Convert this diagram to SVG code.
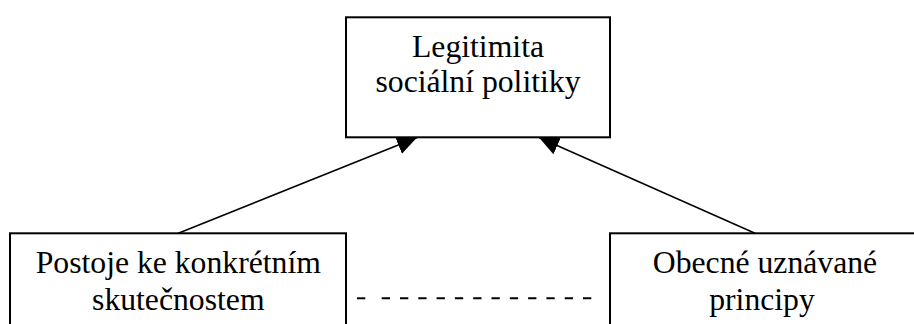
<svg xmlns="http://www.w3.org/2000/svg" width="914" height="324" viewBox="0 0 914 324">
  <style>
    .box { fill: #ffffff; stroke: #000000; stroke-width: 2; }
    .lbl { font-family: 'Liberation Serif', 'Times New Roman', serif; font-size: 31.7px; fill: #000000; text-anchor: middle; }
    .conn { stroke: #000000; stroke-width: 1.5; fill: none; }
    .dash { stroke: #000000; stroke-width: 2; fill: none; }
  </style>
  <defs>
    <marker id="arrow" viewBox="0 0 20 19" markerWidth="20" markerHeight="19" refX="20" refY="9.5" orient="auto" markerUnits="userSpaceOnUse">
      <path d="M0,0 L20,9.5 L0,19 Z" fill="#000000"/>
    </marker>
  </defs>
  <rect width="914" height="324" fill="#ffffff"/>
  <g id="connectors">
    <line class="conn" x1="178.3" y1="233.3" x2="417" y2="137.5" marker-end="url(#arrow)"/>
    <line class="conn" x1="755" y1="233.3" x2="539" y2="137.5" marker-end="url(#arrow)"/>
    <line class="dash" x1="357" y1="298.3" x2="365.3" y2="298.3"/>
    <line class="dash" x1="381.7" y1="298.3" x2="593" y2="298.3" stroke-dasharray="8.3 10"/>
  </g>
  <g id="node-legitimita">
    <rect class="box" x="346" y="17.3" width="264" height="120"/>
    <text class="lbl" x="478" y="56.7">Legitimita</text>
    <text class="lbl" x="478" y="92">sociální politiky</text>
  </g>
  <g id="node-postoje">
    <rect class="box" x="10" y="233.3" width="336" height="120"/>
    <text class="lbl" x="178.3" y="273.3">Postoje ke konkrétním</text>
    <text class="lbl" x="178.3" y="310">skutečnostem</text>
  </g>
  <g id="node-principy">
    <rect class="box" x="610" y="233.3" width="320" height="120"/>
    <text class="lbl" x="765" y="273.3">Obecné uznávané</text>
    <text class="lbl" x="762" y="310">principy</text>
  </g>
</svg>
